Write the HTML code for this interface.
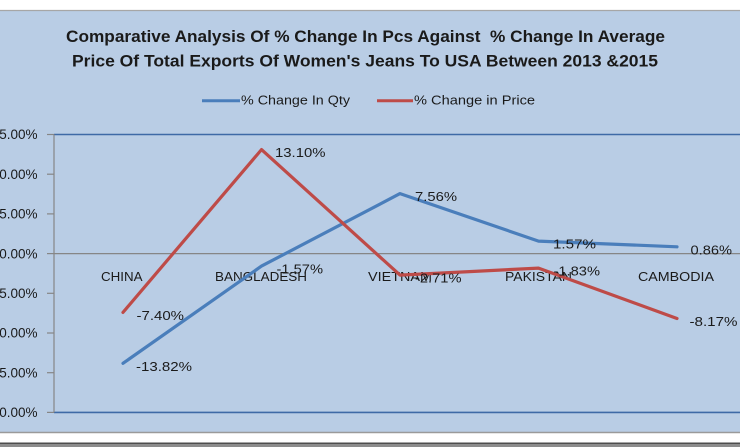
<!DOCTYPE html>
<html>
<head>
<meta charset="utf-8">
<style>
  html, body { margin: 0; padding: 0; background: #ffffff; }
  body { width: 740px; height: 447px; overflow: hidden; }
  svg { display: block; }
  text { font-family: "Liberation Sans", sans-serif; fill: #1a1a1a; }
</style>
</head>
<body>
<svg width="740" height="447" viewBox="0 0 740 447" xmlns="http://www.w3.org/2000/svg">
  <!-- outer frame -->
  <rect x="0" y="0" width="740" height="447" fill="#ffffff"/>
  <rect x="0" y="10.5" width="740" height="422" fill="#b9cde5"/>
  <line x1="0" y1="10.5" x2="740" y2="10.5" stroke="#a6a6a6" stroke-width="1.2"/>
  <line x1="0" y1="432.5" x2="740" y2="432.5" stroke="#9a9a9a" stroke-width="1.5"/>
  <rect x="0" y="442.5" width="740" height="1.5" fill="#4d4d4d"/>
  <rect x="0" y="444" width="740" height="3" fill="#8c8c8c"/>

  <!-- Title -->
  <text x="66" y="42" font-size="16.5" font-weight="bold" textLength="599" lengthAdjust="spacingAndGlyphs" style="white-space:pre">Comparative Analysis Of % Change In Pcs Against  % Change In Average</text>
  <text x="72" y="66.5" font-size="16.5" font-weight="bold" textLength="586" lengthAdjust="spacingAndGlyphs">Price Of Total Exports Of Women's Jeans To USA Between 2013 &amp;2015</text>

  <!-- Legend -->
  <line x1="202" y1="100.7" x2="240" y2="100.7" stroke="#4a7ebb" stroke-width="3"/>
  <text x="241" y="104.5" font-size="13" textLength="109" lengthAdjust="spacingAndGlyphs">% Change In Qty</text>
  <line x1="377" y1="100.7" x2="413" y2="100.7" stroke="#be4b48" stroke-width="3"/>
  <text x="414" y="104.5" font-size="13" textLength="121" lengthAdjust="spacingAndGlyphs">% Change in Price</text>

  <!-- Plot area borders -->
  <line x1="54" y1="134.5" x2="740" y2="134.5" stroke="#3e6aa6" stroke-width="1.6"/>
  <line x1="54" y1="412.4" x2="740" y2="412.4" stroke="#3e6aa6" stroke-width="1.6"/>
  <!-- zero line -->
  <line x1="54" y1="253.6" x2="740" y2="253.6" stroke="#868686" stroke-width="1.2"/>
  <!-- y axis -->
  <line x1="54" y1="134.5" x2="54" y2="412.4" stroke="#868686" stroke-width="1.2"/>
  <g stroke="#868686" stroke-width="1.2">
    <line x1="47" y1="134.5" x2="54" y2="134.5"/>
    <line x1="47" y1="174.2" x2="54" y2="174.2"/>
    <line x1="47" y1="213.9" x2="54" y2="213.9"/>
    <line x1="47" y1="253.6" x2="54" y2="253.6"/>
    <line x1="47" y1="293.3" x2="54" y2="293.3"/>
    <line x1="47" y1="333.0" x2="54" y2="333.0"/>
    <line x1="47" y1="372.7" x2="54" y2="372.7"/>
    <line x1="47" y1="412.4" x2="54" y2="412.4"/>
  </g>
  <g font-size="13.5" text-anchor="end">
    <text x="37.5" y="139.2">15.00%</text>
    <text x="37.5" y="178.9">10.00%</text>
    <text x="37.5" y="218.6">5.00%</text>
    <text x="37.5" y="258.3">0.00%</text>
    <text x="37.5" y="298">-5.00%</text>
    <text x="37.5" y="337.7">-10.00%</text>
    <text x="37.5" y="377.4">-15.00%</text>
    <text x="37.5" y="417.1">-20.00%</text>
  </g>

  <!-- Category labels -->
  <g font-size="13">
    <text x="101" y="281" textLength="41.5" lengthAdjust="spacingAndGlyphs">CHINA</text>
    <text x="215" y="281" textLength="92" lengthAdjust="spacingAndGlyphs">BANGLADESH</text>
    <text x="368" y="281" textLength="64" lengthAdjust="spacingAndGlyphs">VIETNAM</text>
    <text x="505" y="281" textLength="67" lengthAdjust="spacingAndGlyphs">PAKISTAN</text>
    <text x="638" y="281" textLength="76" lengthAdjust="spacingAndGlyphs">CAMBODIA</text>
  </g>

  <!-- Series -->
  <polyline points="123,363.3 261.5,266.1 400,193.6 538.5,241.1 677,246.8" fill="none" stroke="#4a7ebb" stroke-width="3.2" stroke-linejoin="round" stroke-linecap="round"/>
  <polyline points="123,312.4 261.5,149.6 400,275.1 538.5,268.1 677,318.5" fill="none" stroke="#be4b48" stroke-width="3.2" stroke-linejoin="round" stroke-linecap="round"/>

  <!-- Data labels -->
  <g font-size="13">
    <text x="136" y="370.8" textLength="56" lengthAdjust="spacingAndGlyphs">-13.82%</text>
    <text x="276.5" y="273.6" textLength="46.5" lengthAdjust="spacingAndGlyphs">-1.57%</text>
    <text x="415" y="201.1" textLength="42" lengthAdjust="spacingAndGlyphs">7.56%</text>
    <text x="553" y="248.6" textLength="43" lengthAdjust="spacingAndGlyphs">1.57%</text>
    <text x="690.5" y="254.3" textLength="41.5" lengthAdjust="spacingAndGlyphs">0.86%</text>

    <text x="136.5" y="319.9" textLength="47.5" lengthAdjust="spacingAndGlyphs">-7.40%</text>
    <text x="275" y="157.1" textLength="50.5" lengthAdjust="spacingAndGlyphs">13.10%</text>
    <text x="415" y="282.6" textLength="46.5" lengthAdjust="spacingAndGlyphs">-2.71%</text>
    <text x="553.5" y="275.6" textLength="46.5" lengthAdjust="spacingAndGlyphs">-1.83%</text>
    <text x="689.5" y="326" textLength="48" lengthAdjust="spacingAndGlyphs">-8.17%</text>
  </g>
</svg>
</body>
</html>
